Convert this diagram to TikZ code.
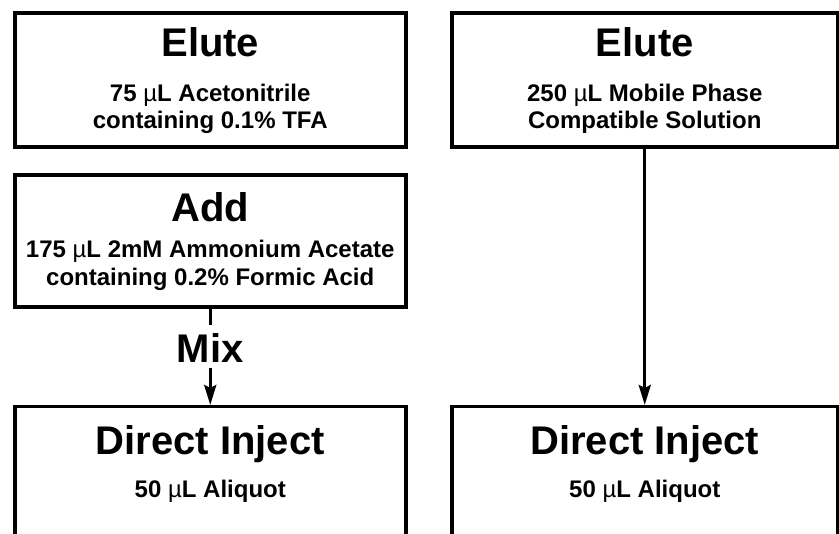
\documentclass[tikz,border=0pt]{standalone}
\usepackage{fontspec}
\setmainfont{Liberation Sans}
\usetikzlibrary{arrows.meta}
\newcommand{\uL}{{\fontseries{m}\selectfont µ}L}
\begin{document}
\begin{tikzpicture}[x=1pt,y=-1pt,
	stepbox/.style={draw,rectangle,line width=3.5pt,inner sep=0pt,minimum width=389pt,anchor=north west},
	title/.style={font=\fontsize{40}{40}\selectfont\bfseries,anchor=base,inner sep=0pt},
	detail/.style={font=\fontsize{24}{27}\selectfont\bfseries,anchor=base,inner sep=0pt},
	flow/.style={line width=3.2pt,-{Stealth[length=20pt,width=12pt,inset=3pt]}}]
		\useasboundingbox (0,0) rectangle (839,534);
		% boxes
		\node[stepbox,minimum width=391pt,minimum height=134pt] (elutea) at (13,11.5) {};
		\node[stepbox,minimum width=386pt,minimum height=134pt] (eluteb) at (450,11.5) {};
		\node[stepbox,minimum width=391pt,minimum height=132pt] (add) at (13,173.5) {};
		\node[stepbox,minimum width=391pt,minimum height=160pt] (injecta) at (13,405) {};
		\node[stepbox,minimum width=386pt,minimum height=160pt] (injectb) at (450,405) {};
		% texts
		\node[title] (elutealbl) at (elutea.north |- 0,57) {Elute};
		\node[detail] (eluteatxt1) at (elutea.north |- 0,102) {75 \uL{} Acetonitrile};
		\node[detail] (eluteatxt2) at (elutea.north |- 0,129) {containing 0.1\% TFA};
		\node[title] (eluteblbl) at (eluteb.north |- 0,57) {Elute};
		\node[detail] (elutebtxt1) at (eluteb.north |- 0,102) {250 \uL{} Mobile Phase};
		\node[detail] (elutebtxt2) at (eluteb.north |- 0,129) {Compatible Solution};
		\node[title] (addlbl) at (add.north |- 0,222) {Add};
		\node[detail] (addtxt1) at (add.north |- 0,258) {175 \uL{} 2mM Ammonium Acetate};
		\node[detail] (addtxt2) at (add.north |- 0,286) {containing 0.2\% Formic Acid};
		\node[title] (injectalbl) at (injecta.north |- 0,455) {Direct Inject};
		\node[detail] (injectatxt) at (injecta.north |- 0,498) {50 \uL{} Aliquot};
		\node[title] (injectblbl) at (injectb.north |- 0,455) {Direct Inject};
		\node[detail] (injectbtxt) at (injectb.north |- 0,498) {50 \uL{} Aliquot};
		\node[title] (mix) at (add.south |- 0,363) {Mix};
		% arrows
		\draw[line width=3.2pt] (add.south) -- ++(0,16);
		\draw[flow,shorten <=5pt] (mix.south) -- (injecta.north);
		\draw[flow] (eluteb.south) -- (injectb.north);
\end{tikzpicture}
\end{document}
